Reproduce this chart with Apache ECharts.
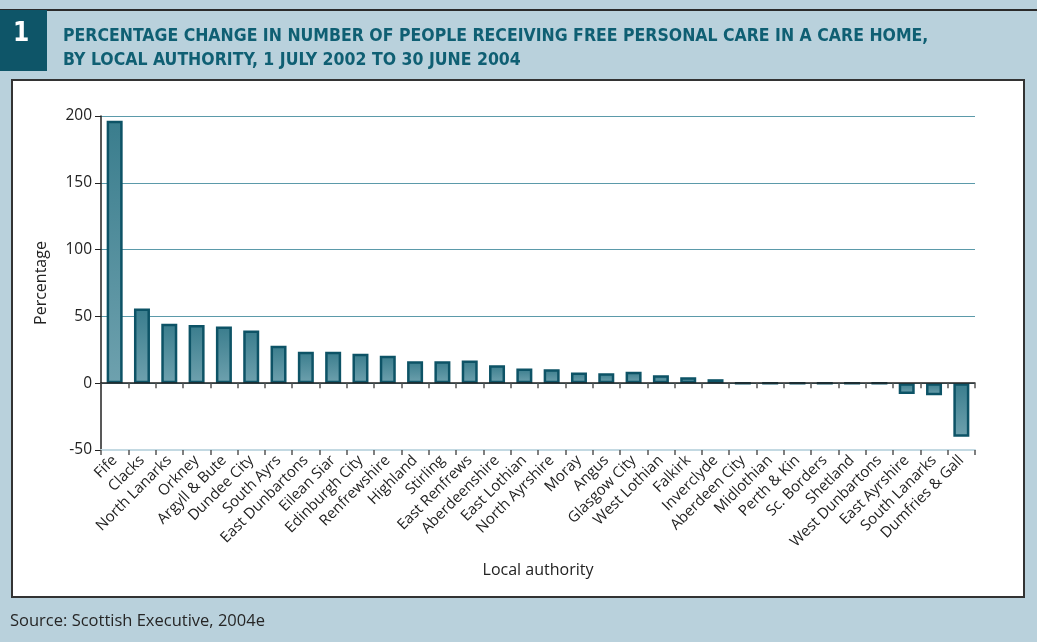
<!DOCTYPE html>
<html>
<head>
<meta charset="utf-8">
<script src="https://cdn.jsdelivr.net/npm/echarts@6/dist/echarts.min.js"></script>
<style>
html,body{margin:0;padding:0;background:#b9d1dc;}
#chart{width:1037px;height:642px;}
</style>
</head>
<body>
<div id="chart"></div>
<script>
const categories = ["Fife","Clacks","North Lanarks","Orkney","Argyll & Bute","Dundee City","South Ayrs","East Dunbartons","Eilean Siar","Edinburgh City","Renfrewshire","Highland","Stirling","East Renfrews","Aberdeenshire","East Lothian","North Ayrshire","Moray","Angus","Glasgow City","West Lothian","Falkirk","Inverclyde","Aberdeen City","Midlothian","Perth & Kin","Sc. Borders","Shetland","West Dunbartons","East Ayrshire","South Lanarks","Dumfries & Gall"];
const percentChange = [196.5,56,44.5,43.5,42.5,39.5,28,23.5,23.5,22,20.5,16.5,16.5,17,13.5,11,10.5,8,7.5,8.5,6,4.5,3,0,0,0,0,0,0,-8,-9,-40];
const yTicks = {min:-50, max:200, interval:50};
const titleLines = ["PERCENTAGE CHANGE IN NUMBER OF PEOPLE RECEIVING FREE PERSONAL CARE IN A CARE HOME,","BY LOCAL AUTHORITY, 1 JULY 2002 TO 30 JUNE 2004"];
const sourceText = "Source: Scottish Executive, 2004e";

const chart = echarts.init(document.getElementById('chart'), null, {renderer:'canvas'});
const labelFont = "'Open Sans', 'DejaVu Sans', sans-serif";
const titleFont = "'Liberation Sans Narrow', 'DejaVu Sans Condensed', sans-serif";
const tealDark = '#0e5568';

chart.setOption({
  backgroundColor:'#b9d1dc',
  animation:false,
  graphic:[
    {type:'rect', z:-10, shape:{x:0,y:9,width:1037,height:2}, style:{fill:'#2a2a2a'}},
    {type:'rect', z:-9, shape:{x:0,y:10,width:47,height:61}, style:{fill:tealDark}},
    {type:'text', z:-8, left:13, top:21, style:{text:'1', fill:'#ffffff', font:"bold 26px "+titleFont}},
    {type:'text', z:-8, left:63, top:27, style:{text:titleLines[0], fill:'#0f5f73', font:"bold 17.5px "+titleFont}},
    {type:'text', z:-8, left:63, top:51, style:{text:titleLines[1], fill:'#0f5f73', font:"bold 17.5px "+titleFont}},
    {type:'rect', z:-7, shape:{x:12,y:80,width:1012,height:517}, style:{fill:'#ffffff', stroke:'#333333', lineWidth:2}},
    {type:'text', z:-6, left:10, top:613, style:{text:sourceText, fill:'#262626', font:"16.5px "+labelFont}}
  ],
  grid:{left:101, right:62, top:116, bottom:192, containLabel:false},
  xAxis:[
    {
      type:'category', data:categories, position:'bottom',
      axisLine:{onZero:true, lineStyle:{color:'#222222', width:1.5}},
      axisTick:{show:true, interval:0, alignWithLabel:false, length:5, lineStyle:{color:'#555555', width:1.5}},
      axisLabel:{show:false, interval:0}, splitLine:{show:false}, z:5
    },
    {
      type:'category', data:categories, position:'bottom',
      name:'Local authority', nameLocation:'middle', nameGap:112,
      nameTextStyle:{fontFamily:labelFont, fontSize:16, color:'#222222'},
      axisLine:{onZero:false, lineStyle:{color:'#c3d9e2', width:2}},
      axisTick:{show:true, interval:0, length:5, lineStyle:{color:'#555555', width:1.5}},
      axisLabel:{rotate:45, interval:0, margin:8, fontFamily:labelFont, fontSize:15, color:'#222222'},
      splitLine:{show:false}
    }
  ],
  yAxis:{
    type:'value', min:yTicks.min, max:yTicks.max, interval:yTicks.interval,
    name:'Percentage', nameLocation:'middle', nameGap:52, nameRotate:90,
    nameTextStyle:{fontFamily:labelFont, fontSize:16, color:'#222222'},
    axisLine:{show:true, lineStyle:{color:'#222222', width:1.5}},
    axisTick:{show:true, length:6, lineStyle:{color:'#222222'}},
    axisLabel:{fontFamily:labelFont, fontSize:15.5, color:'#222222', margin:9},
    splitLine:{show:true, lineStyle:{color:['#c3d9e2','#5b9aaa','#5b9aaa','#5b9aaa','#5b9aaa','#5b9aaa'], width:1}}
  },
  series:[{
    type:'bar', xAxisIndex:0, data:percentChange, barWidth:16,
    itemStyle:{
      color:new echarts.graphic.LinearGradient(0,0,0,1,[{offset:0,color:'#3a7d8d'},{offset:1,color:'#6ea1ae'}]),
      borderColor:'#0d5366', borderWidth:2.5
    }
  }]
});
</script>
</body>
</html>
